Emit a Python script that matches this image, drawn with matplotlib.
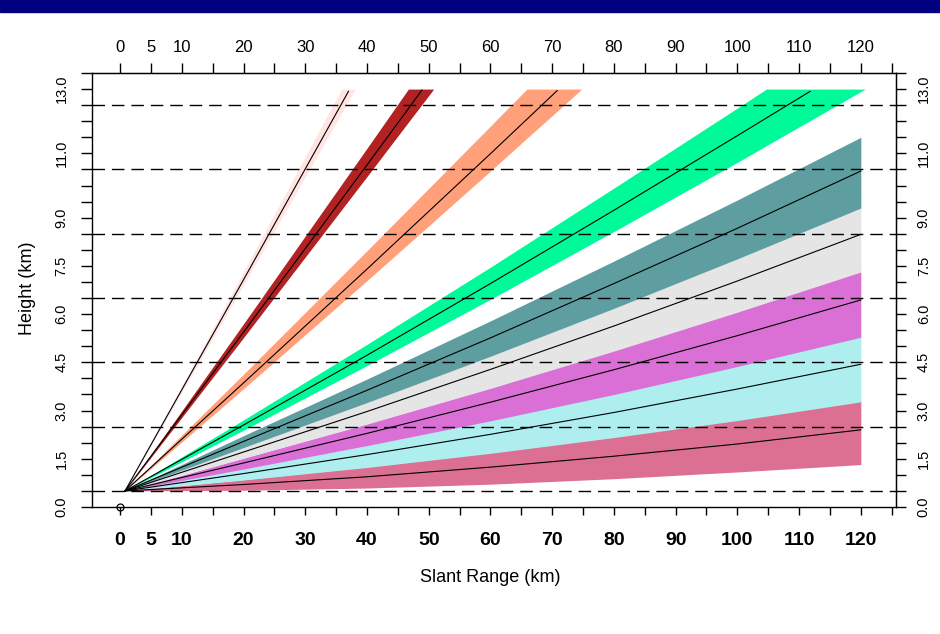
import matplotlib.pyplot as plt
import numpy as np
from matplotlib.patches import Rectangle

plt.rcParams['font.family'] = ['Liberation Sans', 'DejaVu Sans']

# beam colours, lowest elevation first (0.5, 1.5, 2.4, 3.4, 4.3, 6.0, 9.9, 14.6, 19.5 deg)
beam_colors = ['#DB7093', '#AFEEEE', '#DA70D6', '#E5E5E5', '#5F9EA0',
               '#00FA9A', '#FFA07A', '#B22222', '#FFE4E1']

# slant range (km) and beam bottom / centre / top height (km)
rng_low = [0.8, 20, 40, 60, 80, 100, 120]

lo_05 = [0.50, 0.52, 0.59, 0.71, 0.88, 1.09, 1.32]
mid_05 = [0.50, 0.70, 0.94, 1.24, 1.58, 1.96, 2.40]
hi_05 = [0.50, 0.85, 1.25, 1.69, 2.19, 2.72, 3.31]

lo_15 = [0.50, 0.84, 1.23, 1.67, 2.16, 2.69, 3.27]
mid_15 = [0.50, 1.04, 1.63, 2.26, 2.94, 3.67, 4.44]
hi_15 = [0.50, 1.19, 1.92, 2.70, 3.53, 4.40, 5.32]

lo_24 = [0.50, 1.18, 1.91, 2.68, 3.50, 4.37, 5.28]
mid_24 = [0.50, 1.37, 2.29, 3.26, 4.27, 5.33, 6.44]
hi_24 = [0.50, 1.52, 2.59, 3.71, 4.88, 6.09, 7.35]

lo_34 = [0.50, 1.52, 2.58, 3.69, 4.85, 6.06, 7.31]
mid_34 = [0.50, 1.71, 2.97, 4.28, 5.63, 7.03, 8.48]
hi_34 = [0.50, 1.86, 3.26, 4.71, 6.21, 7.75, 9.34]

lo_43 = [0.50, 1.85, 3.25, 4.69, 6.18, 7.72, 9.30]
mid_43 = [0.50, 2.04, 3.63, 5.26, 6.95, 8.67, 10.45]
hi_43 = [0.50, 2.22, 3.98, 5.79, 7.65, 9.55, 11.50]

rng_60 = [0.8, 20, 40, 60, 80, 100, 104.7, 111.8, 120.7]
lo_60 = [0.50, 2.39, 4.40, 6.46, 8.57, 10.72, 11.24, 12.02, 13.0]
mid_60 = [0.50, 2.55, 4.72, 6.95, 9.23, 11.55, 12.10, 12.93]
hi_60 = [0.50, 2.71, 5.06, 7.46, 9.92, 12.41, 13.0, 13.0, 13.0]

rng_99 = [0.8, 20, 40, 60, 65.9, 70.8, 74.8]
lo_99 = [0.50, 3.68, 7.04, 10.45, 11.47, 12.31, 13.0]
mid_99 = [0.50, 3.86, 7.40, 10.99, 12.06, 12.95]
hi_99 = [0.50, 4.13, 7.97, 11.85, 13.0, 13.0, 13.0]

rng_146 = [0.8, 20, 40, 46.7, 48.9, 50.8]
lo_146 = [0.50, 5.27, 10.28, 11.97, 12.52, 13.0]
mid_146 = [0.50, 5.44, 10.64, 12.39, 12.97]
hi_146 = [0.50, 5.70, 11.16, 13.0, 13.0, 13.0]

rng_195 = [0.8, 20, 35.9, 37.0, 38.1]
lo_195 = [0.50, 6.91, 12.26, 12.63, 13.0]
mid_195 = [0.50, 7.07, 12.55, 12.93]
hi_195 = [0.50, 7.32, 13.0, 13.0, 13.0]

dash_levels = [0.5, 2.5, 4.5, 6.5, 8.5, 10.5, 12.5]
radar_x = [0]
radar_y = [0]

range_ticks = [0, 5, 10, 20, 30, 40, 50, 60, 70, 80, 90, 100, 110, 120]
height_ticks = [0, 1.5, 3, 4.5, 6, 7.5, 9, 11, 13]
height_labels = ['0.0', '1.5', '3.0', '4.5', '6.0', '7.5', '9.0', '11.0', '13.0']

beams = [(rng_low, lo_05, mid_05, hi_05), (rng_low, lo_15, mid_15, hi_15),
         (rng_low, lo_24, mid_24, hi_24), (rng_low, lo_34, mid_34, hi_34),
         (rng_low, lo_43, mid_43, hi_43), (rng_60, lo_60, mid_60, hi_60),
         (rng_99, lo_99, mid_99, hi_99), (rng_146, lo_146, mid_146, hi_146),
         (rng_195, lo_195, mid_195, hi_195)]

fig = plt.figure(figsize=(9.4, 6.34), dpi=100)
# slide header bar
fig.patches.append(Rectangle((0, 1 - 12 / 634), 1, 12 / 634, transform=fig.transFigure,
                             color='#000080', zorder=0))
ax = fig.add_axes([92 / 940, 1 - 507 / 634, 804 / 940, 434 / 634])

for (r, lo, mid, hi), c in zip(beams, beam_colors):
    ax.fill_between(r, lo, hi, color=c, lw=0, zorder=1)
    ax.plot(r[:len(mid)], mid, color='k', lw=0.8, zorder=2)

for lvl in dash_levels:
    ax.axhline(lvl, color='k', lw=1.0, ls=(0, (9, 5)), zorder=3)

ax.plot(radar_x, radar_y, 'o', mfc='none', mec='k', ms=5, mew=0.9, clip_on=False, zorder=5)

ax.set_xlim(-4.55, 125.7)
ax.set_ylim(0, 13.5)

for s in ax.spines.values():
    s.set_linewidth(1.0)

# bottom axis
ax.set_xticks(range_ticks, [str(v) for v in range_ticks], fontsize=14, fontweight='bold')
ax.set_xticks(np.arange(0, 126, 5), minor=True)
ax.tick_params(axis='x', which='both', length=6, width=1, pad=12)

# left axis
ax.set_yticks(height_ticks, height_labels, rotation=90, va='center', fontsize=10.5)
ax.set_yticks(np.arange(0, 13.51, 0.5), minor=True)
ax.tick_params(axis='y', which='both', length=8, width=1, pad=9)

# top axis
top = ax.secondary_xaxis('top')
top.set_xticks(range_ticks, [str(v) for v in range_ticks], fontsize=12)
top.set_xticks(np.arange(0, 126, 5), minor=True)
top.tick_params(which='both', length=7, width=1, pad=6)

# right axis
right = ax.secondary_yaxis('right')
right.set_yticks(height_ticks, height_labels, rotation=90, va='center', fontsize=10.5)
right.set_yticks(np.arange(0, 13.51, 0.5), minor=True)
right.tick_params(which='both', length=7, width=1, pad=8)

fig.text(490 / 940, 1 - 577 / 634, 'Slant Range (km)', fontsize=13, ha='center', va='center')
fig.text(27 / 940, 1 - 288 / 634, 'Height (km)', fontsize=13, rotation=90, ha='center', va='center')

fig.savefig('out.png', dpi=100)
